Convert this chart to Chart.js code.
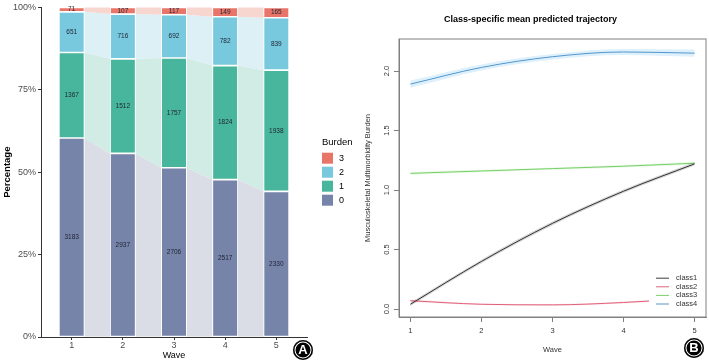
<!DOCTYPE html>
<html>
<head>
<meta charset="utf-8">
<script src="https://cdn.jsdelivr.net/npm/chart.js@4.4.1/dist/chart.umd.min.js"></script>
<style>
  html, body { margin: 0; padding: 0; background: #fff; }
  body { width: 709px; height: 361px; position: relative; overflow: hidden; font-family: "Liberation Sans", Arial, sans-serif; }
  #leftBox { position: absolute; left: 0; top: 0; width: 355px; height: 361px; }
  #rightBox { position: absolute; left: 355px; top: 0; width: 354px; height: 361px; }
  .badge { position: absolute; width: 20px; height: 20px; border-radius: 50%; background: #000; color: #fff;
           font: bold 13px "Liberation Sans", Arial, sans-serif; text-align: center; line-height: 20px;
           box-shadow: inset 0 0 0 1.5px #000, inset 0 0 0 2.5px #fff; }
</style>
</head>
<body>
<div id="leftBox"><canvas id="burdenChart"></canvas></div>
<div id="rightBox"><canvas id="trajChart"></canvas></div>
<div class="badge" style="left:293px; top:340px;">A</div>
<div class="badge" style="left:684px; top:338px;">B</div>
<script>
// panel A: burden counts per wave
const waves = [1, 2, 3, 4, 5];
const burden0 = [3183, 2937, 2706, 2517, 2330];
const burden1 = [1367, 1512, 1757, 1824, 1938];
const burden2 = [651, 716, 692, 782, 839];
const burden3 = [71, 107, 117, 149, 165];
const percentTicks = [0, 25, 50, 75, 100];

// panel B: mean predicted trajectory per class, with band limits
const class1Mean = [0.04, 0.40, 0.72, 0.99, 1.22];
const class1Low = [0.025, 0.385, 0.705, 0.975, 1.205];
const class1High = [0.055, 0.415, 0.735, 1.005, 1.235];
const class2Mean = [0.07, 0.04, 0.035, 0.055, 0.09];
const class2Low = [0.06, 0.033, 0.028, 0.047, 0.08];
const class2High = [0.08, 0.047, 0.042, 0.063, 0.10];
const class3Mean = [1.14, 1.16, 1.18, 1.20, 1.225];
const class3Low = [1.128, 1.15, 1.17, 1.19, 1.212];
const class3High = [1.152, 1.17, 1.19, 1.21, 1.238];
const class4Mean = [1.89, 2.03, 2.12, 2.16, 2.15];
const class4Low = [1.86, 2.005, 2.097, 2.135, 2.12];
const class4High = [1.92, 2.055, 2.143, 2.185, 2.18];
const trajTicks = [0, 0.5, 1, 1.5, 2];

Chart.defaults.font.family = '"Liberation Sans", Arial, sans-serif';
Chart.defaults.color = "#4d4d4d";

const totals = waves.map((w, i) => burden0[i] + burden1[i] + burden2[i] + burden3[i]);
const toPct = (arr) => arr.map((v, i) => ({ x: waves[i], y: (v / totals[i]) * 100 }));

const burdenSets = [
  { label: "0", counts: burden0, color: "#7784a9", flow: "#dadde6" },
  { label: "1", counts: burden1, color: "#48b69c", flow: "#d1ece5" },
  { label: "2", counts: burden2, color: "#78c8de", flow: "#dcf0f6" },
  { label: "3", counts: burden3, color: "#e87568", flow: "#f8d6d0" },
];

// light bands joining the same category between neighbouring bars,
// count labels in each segment, and the "Burden" key on the right
const flowPlugin = {
  id: "flows",
  beforeDatasetsDraw(chart) {
    const ctx = chart.ctx;
    chart.data.datasets.forEach((ds, d) => {
      const bars = chart.getDatasetMeta(d).data;
      ctx.save();
      ctx.fillStyle = ds.flowColor;
      for (let i = 0; i < bars.length - 1; i++) {
        const a = bars[i], b = bars[i + 1];
        ctx.beginPath();
        ctx.moveTo(a.x + a.width / 2, a.y);
        ctx.lineTo(b.x - b.width / 2, b.y);
        ctx.lineTo(b.x - b.width / 2, b.base);
        ctx.lineTo(a.x + a.width / 2, a.base);
        ctx.closePath();
        ctx.fill();
      }
      ctx.restore();
    });
  },
  afterDatasetsDraw(chart) {
    const ctx = chart.ctx;
    ctx.save();
    ctx.font = '6.5px "Liberation Sans", Arial, sans-serif';
    ctx.fillStyle = "#1f2233";
    ctx.textAlign = "center";
    ctx.textBaseline = "middle";
    chart.data.datasets.forEach((ds, d) => {
      chart.getDatasetMeta(d).data.forEach((bar, i) => {
        ctx.fillText(String(ds.counts[i]), bar.x, (bar.y + bar.base) / 2);
      });
    });
    ctx.restore();
  },
  afterDraw(chart) {
    const { ctx, chartArea } = chart;
    const sets = chart.data.datasets.slice().reverse();
    const x = chartArea.right + 15;
    const top = (chartArea.top + chartArea.bottom) / 2 - 35;
    ctx.save();
    ctx.textBaseline = "middle";
    ctx.fillStyle = "#000";
    ctx.font = '9.5px "Liberation Sans", Arial, sans-serif';
    ctx.fillText("Burden", x, top + 5.5);
    ctx.font = '9px "Liberation Sans", Arial, sans-serif';
    sets.forEach((ds, i) => {
      const y = top + 15.5 + i * 14;
      ctx.fillStyle = ds.backgroundColor;
      ctx.fillRect(x, y, 11, 11);
      ctx.fillStyle = "#000";
      ctx.fillText(ds.label, x + 17, y + 5.5);
    });
    ctx.restore();
  },
};

new Chart(document.getElementById("burdenChart"), {
  type: "bar",
  data: {
    datasets: burdenSets.map((s) => ({
      label: s.label,
      data: toPct(s.counts),
      counts: s.counts,
      backgroundColor: s.color,
      flowColor: s.flow,
      borderColor: "#ffffff",
      borderWidth: 0.8,
      borderSkipped: false,
      categoryPercentage: 1,
      barPercentage: 0.5,
    })),
  },
  options: {
    responsive: true,
    maintainAspectRatio: false,
    animation: false,
    layout: { padding: { top: 6, right: 48 } },
    plugins: {
      tooltip: { enabled: false },
      legend: { display: false },
    },
    scales: {
      x: {
        type: "linear",
        stacked: true,
        offset: false,
        min: 0.4,
        max: 5.6,
        afterBuildTicks: (axis) => { axis.ticks = waves.map((v) => ({ value: v })); },
        afterFit: (axis) => { axis.height = 24; },
        grid: { drawOnChartArea: false, offset: false, tickLength: 3, color: "#333" },
        border: { display: true, color: "#333", width: 1 },
        ticks: { font: { size: 9 }, color: "#4d4d4d", padding: 0, maxRotation: 0 },
        title: { display: true, text: "Wave", color: "#000", font: { size: 9 }, padding: { top: 0, bottom: 0.5 } },
      },
      y: {
        stacked: true,
        min: 0,
        max: 100,
        afterBuildTicks: (axis) => { axis.ticks = percentTicks.map((v) => ({ value: v })); },
        afterFit: (axis) => { axis.width = 41; },
        grid: { drawOnChartArea: false, tickLength: 3, color: "#333" },
        border: { display: true, color: "#333", width: 1 },
        ticks: { font: { size: 9 }, color: "#4d4d4d", padding: 2, callback: (v) => v + "%" },
        title: { display: true, text: "Percentage", color: "#000", font: { size: 9.5, weight: "bold" }, padding: { top: 2 } },
      },
    },
  },
  plugins: [flowPlugin],
});

const classSets = [
  { label: "class1", mean: class1Mean, low: class1Low, high: class1High, color: "#3c3c3c", band: "rgba(0,0,0,0.16)" },
  { label: "class2", mean: class2Mean, low: class2Low, high: class2High, color: "#e0647c", band: "rgba(223,83,107,0.15)" },
  { label: "class3", mean: class3Mean, low: class3Low, high: class3High, color: "#7ccf6c", band: "rgba(97,208,79,0.15)" },
  { label: "class4", mean: class4Mean, low: class4Low, high: class4High, color: "#5a95c8", band: "rgba(34,151,230,0.15)" },
];
const toPts = (arr) => arr.map((v, i) => ({ x: waves[i], y: v }));

// box around the plot region plus the legend in the bottom right corner
const boxLegendPlugin = {
  id: "boxLegend",
  afterDatasetsDraw(chart) {
    const { ctx, chartArea } = chart;
    const items = chart.data.datasets.filter((d) => d.isMean);
    const rowH = 8.6;
    ctx.save();
    ctx.fillStyle = "#fff";
    const top = chartArea.bottom - 10 - rowH * items.length - 10;
    ctx.fillRect(chartArea.right - 57, top, 55, rowH * items.length + 14);
    ctx.font = '7.5px "Liberation Sans", Arial, sans-serif';
    ctx.textBaseline = "middle";
    items.forEach((d, i) => {
      const y = chartArea.bottom - 13 - rowH * (items.length - 1 - i);
      ctx.strokeStyle = d.borderColor;
      ctx.lineWidth = 1;
      ctx.beginPath();
      ctx.moveTo(chartArea.right - 50, y);
      ctx.lineTo(chartArea.right - 37, y);
      ctx.stroke();
      ctx.fillStyle = "#333";
      ctx.fillText(d.label, chartArea.right - 30, y);
    });
    ctx.strokeStyle = "#808080";
    ctx.lineWidth = 1;
    ctx.strokeRect(chartArea.left, chartArea.top, chartArea.right - chartArea.left, chartArea.bottom - chartArea.top);
    ctx.restore();
  },
};

new Chart(document.getElementById("trajChart"), {
  type: "line",
  data: {
    datasets: [
      ...classSets.flatMap((c) => [
        { label: c.label + " low", data: toPts(c.low), borderWidth: 0, pointRadius: 0, fill: false, cubicInterpolationMode: "monotone" },
        { label: c.label + " high", data: toPts(c.high), borderWidth: 0, pointRadius: 0, fill: "-1", backgroundColor: c.band, cubicInterpolationMode: "monotone" },
      ]),
      ...classSets.map((c) => ({
        label: c.label,
        isMean: true,
        data: toPts(c.mean),
        borderColor: c.color,
        borderWidth: 1,
        pointRadius: 0,
        fill: false,
        cubicInterpolationMode: "monotone",
      })),
    ],
  },
  options: {
    responsive: true,
    maintainAspectRatio: false,
    animation: false,
    layout: { padding: { right: 3 } },
    plugins: {
      tooltip: { enabled: false },
      legend: { display: false },
      title: {
        display: true,
        text: "Class-specific mean predicted trajectory",
        color: "#000",
        font: { size: 9, weight: "bold" },
        padding: { top: 14.6, bottom: 13.6 },
      },
    },
    scales: {
      x: {
        type: "linear",
        min: 0.84,
        max: 5.16,
        afterBuildTicks: (axis) => { axis.ticks = waves.map((v) => ({ value: v })); },
        afterFit: (axis) => { axis.height = 44; },
        grid: { drawOnChartArea: false, tickLength: 5, color: "#808080" },
        border: { display: true, color: "#808080" },
        ticks: { font: { size: 7.5 }, color: "#333", padding: 4, maxRotation: 0 },
        title: { display: true, text: "Wave", color: "#333", font: { size: 7.5 }, padding: { top: 0, bottom: 6.5 } },
      },
      y: {
        type: "linear",
        min: -0.067,
        max: 2.269,
        afterBuildTicks: (axis) => { axis.ticks = trajTicks.map((v) => ({ value: v })); },
        afterFit: (axis) => { axis.width = 44; },
        grid: { drawOnChartArea: false, tickLength: 5, color: "#808080" },
        border: { display: true, color: "#808080" },
        ticks: { font: { size: 7.5 }, color: "#333", padding: 2, minRotation: 90, maxRotation: 90, crossAlign: "center", callback: (v) => v.toFixed(1) },
        title: { display: true, text: "Musculoskeletal Multimorbidity Burden", color: "#333", font: { size: 7.5 }, padding: { top: 8.5 } },
      },
    },
  },
  plugins: [boxLegendPlugin],
});
</script>
</body>
</html>
